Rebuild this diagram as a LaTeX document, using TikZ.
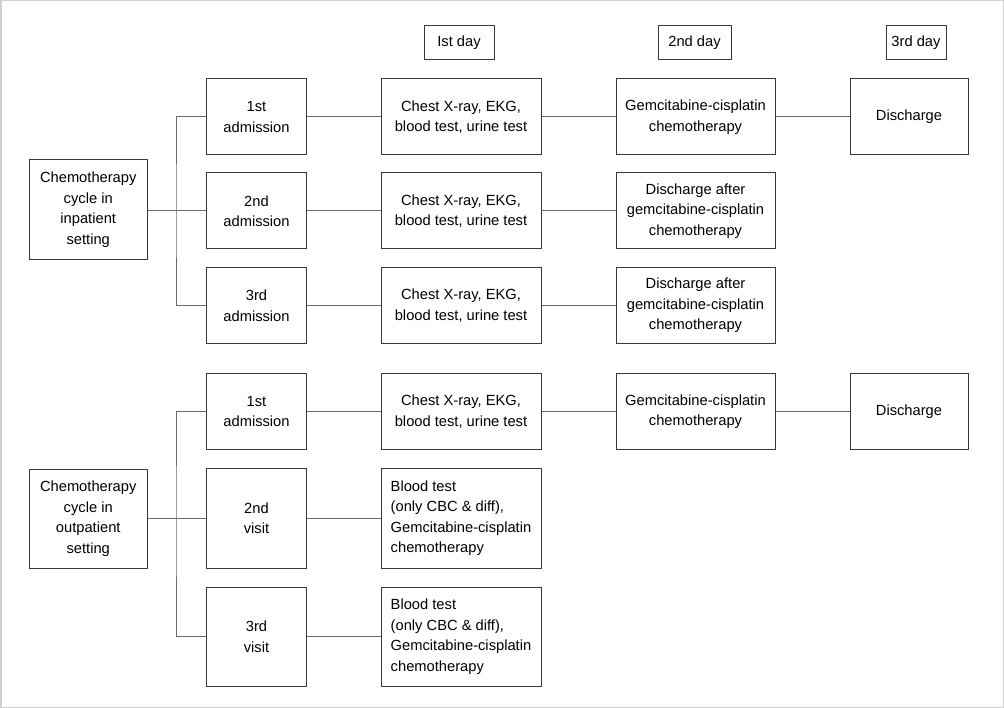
\documentclass[tikz,border=0pt]{standalone}
\usepackage{fontspec}
\setmainfont{Liberation Sans}
\definecolor{boxline}{HTML}{3A3A3A}
\definecolor{conn}{HTML}{6B6B6B}
\definecolor{frame}{HTML}{D0D0D0}
\begin{document}
\begin{tikzpicture}[x=1pt,y=-1pt,
  every node/.style={font=\fontsize{14.7}{20.5}\selectfont, text=black},
  box/.style={draw=boxline, line width=1pt, rectangle, align=center, inner sep=2pt},
  hdr/.style={box, minimum height=34pt},
  col1/.style={box, minimum width=100pt},
  col2/.style={box, minimum width=160pt},
  col3/.style={box, minimum width=159pt},
  col4/.style={box, minimum width=118pt},
  rowh/.style={minimum height=76pt},
  leftbox/.style={box, minimum width=117.5pt, minimum height=100pt},
  btbox/.style={box, align=left, minimum width=160pt},
  link/.style={draw=conn, line width=1pt}
]
\useasboundingbox (0,0) rectangle (1004,708);
\draw[frame, line width=1.5pt] (0.75,0.75) rectangle (1003.25,707.25);

% headers
\node[hdr, minimum width=70pt] (h1) at (459,43) {Ist day};
\node[hdr, minimum width=73pt] (h2) at (694.5,43) {2nd day};
\node[hdr, minimum width=60pt] (h3) at (916,43) {3rd day};

% inpatient
\node[leftbox] (inL) at (88.25,209.5) {Chemotherapy\\cycle in\\inpatient\\setting};
\node[col1, rowh] (a1) at (256.5,117) {1st\\admission};
\node[col1, rowh] (a2) at (256.5,211) {2nd\\admission};
\node[col1, rowh] (a3) at (256.5,305.5) {3rd\\admission};
\node[col2, rowh] (t1) at (461,117) {Chest X-ray, EKG,\\blood test, urine test};
\node[col2, rowh] (t2) at (461,211) {Chest X-ray, EKG,\\blood test, urine test};
\node[col2, rowh] (t3) at (461,305.5) {Chest X-ray, EKG,\\blood test, urine test};
\node[col3, rowh] (g1) at (695.5,117) {Gemcitabine-cisplatin\\chemotherapy};
\node[col3, rowh] (g2) at (695.5,211) {Discharge after\\gemcitabine-cisplatin\\chemotherapy};
\node[col3, rowh] (g3) at (695.5,305.5) {Discharge after\\gemcitabine-cisplatin\\chemotherapy};
\node[col4, rowh] (d1) at (909,117) {Discharge};

\coordinate (inJ) at (176,210.3);
\draw[link] (inL.east |- inJ) -- (inJ);
\draw[link] (a1.west) -| (inJ) |- (a3.west);
\draw[link] (inJ) -- (a2.west |- inJ);
\draw[link] (a1.east) -- (t1.west);
\draw[link] (a2.east) -- (t2.west);
\draw[link] (a3.east) -- (t3.west);
\draw[link] (t1.east) -- (g1.west);
\draw[link] (t2.east) -- (g2.west);
\draw[link] (t3.east) -- (g3.west);
\draw[link] (g1.east) -- (d1.west);

% outpatient
\node[leftbox, minimum height=99pt] (outL) at (88.25,518.5) {Chemotherapy\\cycle in\\outpatient\\setting};
\node[col1, minimum height=75pt] (o1) at (256.5,411.5) {1st\\admission};
\node[col1, minimum height=100pt] (o2) at (256.5,518) {2nd\\visit};
\node[col1, minimum height=99pt] (o3) at (256.5,636.5) {3rd\\visit};
\node[col2, minimum height=75pt] (ot1) at (461,411.5) {Chest X-ray, EKG,\\blood test, urine test};
\node[btbox, minimum height=100pt] (ob2) at (461,518) {Blood test\\(only CBC \& diff),\\Gemcitabine-cisplatin\\chemotherapy};
\node[btbox, minimum height=99pt] (ob3) at (461,636.5) {Blood test\\(only CBC \& diff),\\Gemcitabine-cisplatin\\chemotherapy};
\node[col3, minimum height=75pt] (og1) at (695.5,411.5) {Gemcitabine-cisplatin\\chemotherapy};
\node[col4, minimum height=75pt] (od1) at (909,411.5) {Discharge};

\coordinate (outJ) at (176,518.3);
\draw[link] (outL.east |- outJ) -- (outJ);
\draw[link] (o1.west) -| (outJ) |- (o3.west);
\draw[link] (outJ) -- (o2.west |- outJ);
\draw[link] (o1.east) -- (ot1.west);
\draw[link] (o2.east) -- (ob2.west);
\draw[link] (o3.east) -- (ob3.west);
\draw[link] (ot1.east) -- (og1.west);
\draw[link] (og1.east) -- (od1.west);
\end{tikzpicture}
\end{document}
